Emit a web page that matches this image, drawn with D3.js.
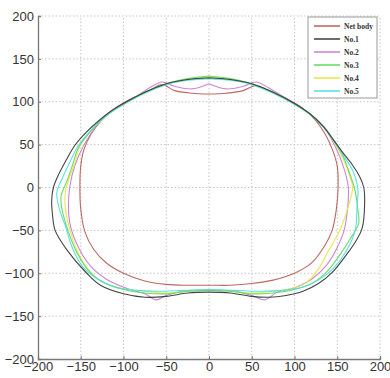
<!DOCTYPE html>
<html><head><meta charset="utf-8">
<script src="https://cdn.jsdelivr.net/npm/d3@7"></script>
<style>body{margin:0;background:#fff}svg{display:block}</style>
</head><body>
<svg id="c" width="390" height="378"></svg>
<script>
const seriesNames = ["Net body","No.1","No.2","No.3","No.4","No.5"];
const seriesColors = ["#b8605c","#3a3a3a","#c77fd6","#62d862","#e8e640","#52dede"];
const xTicks = [-200,-150,-100,-50,0,50,100,150,200];
const yTicks = [-200,-150,-100,-50,0,50,100,150,200];

const netBody = [[0,109],[20,110],[40,113],[55,119],[70,113],[90,104],[110,92],[125,78],[136,62],[144,45],[150,25],[151,0],[149,-25],[144,-50],[134,-70],[120,-88],[100,-100],[75,-108],[50,-112],[25,-114],[0,-114],[-25,-114],[-50,-113],[-75,-109],[-100,-100],[-120,-88],[-135,-72],[-145,-52],[-150,-25],[-151,0],[-150,25],[-146,45],[-138,62],[-126,78],[-110,92],[-90,104],[-70,113],[-55,120],[-40,113],[-20,110],[0,109]];
const no1 = [[0,128],[25,126],[50,121],[75,111],[100,98],[118,86],[133,72],[146,55],[157,40],[168,26],[176,13],[181,0],[182,-20],[179,-48],[172,-62],[161,-78],[145,-98],[128,-112],[110,-121],[90,-126],[70,-128],[50,-127],[25,-123],[0,-122],[-25,-123],[-50,-127],[-75,-128],[-100,-124],[-127,-114],[-143,-100],[-166,-73],[-180,-50],[-183,-32],[-184,-15],[-182,0],[-176,15],[-167,32],[-157,49],[-144,64],[-130,77],[-115,89],[-100,98],[-75,111],[-50,121],[-25,126],[0,128]];
const no2 = [[0,121],[20,115],[40,118],[55,123],[70,116],[90,104],[110,92],[125,80],[138,65],[148,47],[157,25],[163,0],[162,-25],[158,-50],[150,-70],[138,-90],[120,-107],[100,-117],[80,-122],[65,-131],[50,-126],[30,-121],[0,-120],[-30,-121],[-50,-126],[-62,-131],[-75,-124],[-95,-118],[-120,-107],[-140,-90],[-155,-65],[-163,-40],[-164,-10],[-160,15],[-152,38],[-140,60],[-125,80],[-105,94],[-85,106],[-70,116],[-55,123],[-40,118],[-20,115],[0,121]];
const no3 = [[0,130],[25,127],[50,121],[75,111],[100,97],[120,84],[135,70],[147,53],[157,36],[165,15],[170,0],[174,-25],[175,-42],[165,-60],[152,-80],[138,-98],[120,-112],[100,-119],[75,-123],[50,-124],[25,-121],[0,-120],[-25,-121],[-50,-124],[-75,-123],[-100,-119],[-125,-110],[-140,-98],[-155,-75],[-165,-50],[-172,-25],[-173,-10],[-166,8],[-160,25],[-152,48],[-138,66],[-120,84],[-100,97],[-75,111],[-50,121],[-25,127],[0,130]];
const no4 = [[0,129],[25,126],[50,121],[75,111],[100,97],[120,84],[135,70],[147,52],[157,33],[164,15],[168,0],[162,-25],[153,-50],[139,-75],[128,-95],[115,-110],[95,-118],[75,-121],[50,-123],[25,-121],[0,-119],[-25,-121],[-50,-123],[-75,-121],[-100,-118],[-125,-110],[-142,-95],[-155,-72],[-163,-48],[-168,-25],[-168,-5],[-163,12],[-157,28],[-151,48],[-137,67],[-120,84],[-100,97],[-75,111],[-50,121],[-25,126],[0,129]];
const no5 = [[0,127],[25,125],[50,120],[75,110],[100,97],[120,84],[135,70],[148,52],[158,36],[168,20],[174,0],[173,-25],[171,-50],[160,-75],[145,-95],[128,-108],[110,-116],[85,-120],[60,-121],[30,-120],[0,-119],[-30,-120],[-60,-121],[-85,-120],[-110,-116],[-130,-107],[-148,-92],[-160,-70],[-168,-45],[-175,-25],[-178,-6],[-172,10],[-164,27],[-154,47],[-138,67],[-120,84],[-100,97],[-75,110],[-50,120],[-25,125],[0,127]];
const seriesData = [netBody,no1,no2,no3,no4,no5];

const svg = d3.select("#c");
const x = d3.scaleLinear().domain([-200,200]).range([38,380]);
const y = d3.scaleLinear().domain([-200,200]).range([359,16]);

// grid
const g = svg.append("g");
g.selectAll(".vg").data(xTicks.slice(1)).enter().append("line")
  .attr("x1",d=>x(d)).attr("x2",d=>x(d)).attr("y1",y(-200)).attr("y2",y(200))
  .attr("stroke","#c4c4c4").attr("stroke-width",1).attr("stroke-dasharray","1.5,2");
g.selectAll(".hg").data(yTicks.slice(1)).enter().append("line")
  .attr("y1",d=>y(d)).attr("y2",d=>y(d)).attr("x1",x(-200)).attr("x2",x(200))
  .attr("stroke","#c4c4c4").attr("stroke-width",1).attr("stroke-dasharray","1.5,2");

// curves
const line = d3.line().x(d=>x(d[0])).y(d=>y(d[1])).curve(d3.curveCatmullRom.alpha(0.5));
const order = [0,2,4,3,5,1];
order.forEach(i=>{
  svg.append("path").attr("d",line(seriesData[i])).attr("fill","none")
    .attr("stroke",seriesColors[i]).attr("stroke-width",1.1).attr("opacity",0.95);
});

// axes
const xa = svg.append("g").attr("transform",`translate(0,${y(-200)})`)
  .call(d3.axisBottom(x).tickValues(xTicks).tickSize(-3).tickPadding(5));
const ya = svg.append("g").attr("transform",`translate(${x(-200)},0)`)
  .call(d3.axisLeft(y).tickValues(yTicks).tickSize(-3).tickPadding(4));
[xa,ya].forEach(a=>{
  a.select(".domain").attr("stroke","#777").attr("stroke-width",1.3);
  a.selectAll(".tick line").attr("stroke","#777");
  a.selectAll("text").attr("font-family","Liberation Sans, Arial, sans-serif").attr("font-size",13).attr("fill","#333");
});
xa.selectAll("text").attr("dy","0.55em");

// legend
const lg = svg.append("g");
lg.append("rect").attr("x",308).attr("y",17).attr("width",69).attr("height",81)
  .attr("fill","#fff").attr("stroke","#999").attr("stroke-width",1);
seriesNames.forEach((n,i)=>{
  const yy = 26 + i*13;
  lg.append("line").attr("x1",314).attr("x2",340).attr("y1",yy).attr("y2",yy)
    .attr("stroke",seriesColors[i]).attr("stroke-width",1.5);
  lg.append("text").attr("x",344).attr("y",yy+2.5).text(n)
    .attr("font-family","Liberation Serif, Times New Roman, serif").attr("font-weight","bold")
    .attr("font-size",7.5).attr("fill","#333");
});
</script>
</body></html>
